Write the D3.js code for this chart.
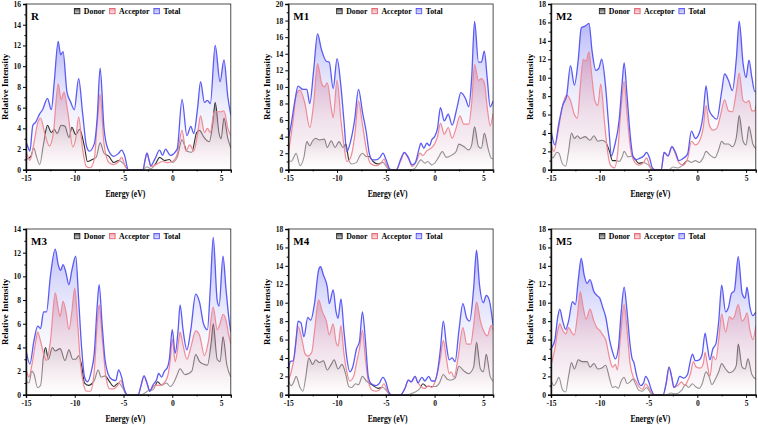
<!DOCTYPE html>
<html><head><meta charset="utf-8">
<script src="https://cdn.jsdelivr.net/npm/d3@7"></script>
<style>body{margin:0;background:#fff}svg{display:block}text{font-family:"Liberation Serif","Times New Roman",serif;font-weight:bold}</style>
</head><body>
<svg id="chart" width="758" height="425"></svg>
<script>
const panelNames = ["R","M1","M2","M3","M4","M5"];
const yMaxes = [16,20,18,14,18,18];
const xTicks = [-15,-10,-5,0,5];
const xMinorTicks = [-12.5,-7.5,-2.5,2.5];
const legendLabels = ["Donor","Acceptor","Total"];
const xTitle = "Energy (eV)";
const yTitle = "Relative Intensity";

// [energy (eV), intensity]
const R_total = [[-15,2.7],[-14.8,2.2],[-14.6,1.8],[-14.3,4.3],[-14,4.6],[-13.6,5.4],[-13.3,5.8],[-12.8,6.9],[-12.4,5.8],[-12.1,8.5],[-11.7,12.4],[-11.45,11.1],[-11.2,11.4],[-10.8,7.5],[-10.4,6.5],[-10.05,5.8],[-9.6,8.8],[-9.2,5.5],[-8.8,2.3],[-8.5,1.8],[-8.0,2.5],[-7.7,5],[-7.4,9.8],[-7.0,4],[-6.6,2.0],[-6.0,1.3],[-5.5,1.6],[-5.2,1.9],[-4.9,1.4],[-4.5,0],[-3.0,0],[-2.8,0.9],[-2.6,1.6],[-2.4,1.0],[-2.2,0.4],[-1.8,1.0],[-1.3,1.9],[-1.0,1.4],[-0.7,2.0],[-0.2,1.4],[0.5,2.0],[1.0,6.8],[1.5,3.3],[1.9,4.2],[2.2,3.5],[2.6,6.0],[2.9,8.5],[3.3,6.5],[3.6,6.7],[3.9,6.4],[4.4,12.0],[4.9,8.5],[5.3,10.6],[5.7,7],[6,5.3]];
const R_acceptor = [[-15,1.9],[-14.6,0.9],[-14.2,2.5],[-13.8,4.5],[-13.5,5.0],[-13.1,3.6],[-12.6,2.3],[-12.2,3.5],[-11.7,8.3],[-11.4,6.8],[-11.1,7.5],[-10.7,5.5],[-10.2,2.2],[-9.9,3.0],[-9.6,5.1],[-9.2,2.0],[-8.8,0.3],[-8.4,0.2],[-8.0,1.0],[-7.7,4.5],[-7.4,7.3],[-7.0,2.5],[-6.5,0.7],[-6.0,0.5],[-5.5,0.8],[-5.2,1.2],[-4.8,0.3],[-4.5,0],[-3.0,0],[-2.8,0.9],[-2.6,1.6],[-2.4,1.0],[-2.2,0.3],[-1.5,0.6],[-1.0,0.8],[-0.5,0.7],[0,0.8],[0.5,1.5],[1.0,3.8],[1.4,1.8],[1.8,2.4],[2.2,1.8],[2.6,3.5],[2.9,5.2],[3.3,3.6],[3.6,4.0],[3.9,3.6],[4.3,5.6],[5.0,5.6],[5.3,5.7],[5.7,4.0],[6,3.3]];
const R_donor = [[-15,1.0],[-14.5,1.3],[-14.2,2.1],[-13.9,1.2],[-13.6,0.5],[-13.2,2.5],[-12.8,4.3],[-12.4,3.6],[-12.1,3.9],[-11.8,3.5],[-11.4,4.3],[-11.0,4.2],[-10.6,3.1],[-10.3,4.1],[-9.9,3.4],[-9.5,3.9],[-9.0,2.2],[-8.7,0.8],[-8.2,1.0],[-7.8,1.2],[-7.4,2.6],[-7.0,1.6],[-6.5,1.3],[-6.0,0.7],[-5.5,0.9],[-5.0,0.6],[-4.5,0],[-3.0,0],[-2.6,0.3],[-2.2,0.1],[-1.7,0.6],[-1.3,1.2],[-0.8,0.9],[-0.3,1.0],[0,0.7],[0.5,1.2],[1.0,2.9],[1.5,1.8],[2.0,1.7],[2.5,3.6],[2.8,3.8],[3.2,3.2],[3.8,2.7],[4.15,4.5],[4.4,6.5],[4.8,3.5],[5.0,3.0],[5.3,5.0],[5.7,3.0],[6,2.1]];

const M1_total = [[-15,3.6],[-14.7,5.5],[-14.3,8.5],[-14.0,10.1],[-13.5,9.7],[-13.1,9.7],[-12.8,8.0],[-12.4,12.0],[-12.0,16.4],[-11.6,14.5],[-11.1,13.1],[-10.8,13.0],[-10.4,9.8],[-10.0,13.4],[-9.6,10.0],[-9.3,6.0],[-9.0,2.2],[-8.6,3.5],[-8.2,6.0],[-7.8,9.7],[-7.4,7.0],[-7.0,4.5],[-6.7,2.0],[-6.4,1.2],[-6.0,1.2],[-5.6,1.5],[-5.3,2.0],[-5.0,1.3],[-4.6,0.1],[-4.3,0],[-3.9,0],[-3.5,1.2],[-3.1,2.1],[-2.7,1.5],[-2.3,0.6],[-2.0,0.8],[-1.6,2.5],[-1.4,3.2],[-1.1,2.6],[-0.8,3.2],[-0.5,2.9],[-0.3,3.6],[0,4.0],[0.3,5.0],[0.6,7.5],[1.0,5.9],[1.4,6.7],[1.8,5.4],[2.3,7.5],[2.7,9.3],[3.2,8.5],[3.5,7.6],[3.8,11.0],[4.1,17.9],[4.5,13.0],[4.8,13.0],[5.1,14.3],[5.4,11.0],[5.7,7.6],[6,8.3]];
const M1_acceptor = [[-15,2.0],[-14.5,6.0],[-14.2,9.0],[-13.8,9.6],[-13.3,8.0],[-12.8,5.1],[-12.4,8.0],[-12.0,12.8],[-11.6,10.5],[-11.3,10.0],[-11.0,10.5],[-10.6,7.5],[-10.4,6.3],[-10.0,10.8],[-9.6,6.0],[-9.3,3.0],[-9.0,1.0],[-8.6,1.5],[-8.2,4.0],[-7.8,8.3],[-7.4,5.5],[-7.0,2.5],[-6.6,0.8],[-6.0,0.5],[-5.5,0.8],[-5.2,1.3],[-4.9,0.5],[-4.6,0],[-4.0,0],[-3.5,1.0],[-3.1,2.0],[-2.7,1.4],[-2.3,0.4],[-1.8,1.2],[-1.5,2.0],[-1.2,1.7],[-0.8,2.3],[-0.5,2.5],[0,3.1],[0.3,4.0],[0.6,5.6],[1.0,4.3],[1.4,5.1],[1.8,3.8],[2.2,5.0],[2.6,6.5],[3.0,5.5],[3.5,5.5],[3.8,8.0],[4.1,12.7],[4.5,10.8],[4.8,11.0],[5.1,10.5],[5.4,7.5],[5.7,5.3],[6,6.8]];
const M1_donor = [[-15,1.2],[-14.7,1.0],[-14.4,1.6],[-14.2,2.0],[-13.8,0.5],[-13.4,1.5],[-13.1,3.4],[-12.8,2.9],[-12.5,3.5],[-12.2,3.8],[-11.8,3.6],[-11.3,3.7],[-11.0,2.7],[-10.6,3.5],[-10.2,2.7],[-9.8,3.4],[-9.4,2.7],[-9.1,3.1],[-8.8,1.2],[-8.5,0.7],[-8.0,0.9],[-7.7,1.6],[-7.4,2.0],[-7.0,1.6],[-6.7,1.6],[-6.3,1.0],[-5.8,0.7],[-5.3,0.9],[-4.9,0.3],[-4.6,0],[-3.2,0],[-2.5,0],[-2.0,0.2],[-1.4,1.2],[-1.0,0.8],[-0.7,1.0],[-0.3,0.6],[0,0.8],[0.4,1.5],[0.8,2.2],[1.2,1.5],[1.8,1.8],[2.2,2.2],[2.5,3.1],[3.0,2.8],[3.5,2.4],[3.8,3.0],[4.1,5.2],[4.5,2.8],[4.8,2.6],[5.1,4.4],[5.5,2.5],[5.8,1.4],[6,1.3]];

const M2_total = [[-15,4.3],[-14.6,2.7],[-14.2,5.0],[-13.8,7.0],[-13.4,8.0],[-13.0,11.3],[-12.6,9.2],[-12.2,12.0],[-11.9,15.4],[-11.5,15.6],[-11.1,15.9],[-10.8,13.0],[-10.4,10.8],[-10.1,11.0],[-9.8,12.0],[-9.4,9.0],[-9.1,5.0],[-8.8,1.5],[-8.5,2.5],[-8.0,5.5],[-7.7,9.5],[-7.5,11.6],[-7.2,8.0],[-6.9,4.0],[-6.6,1.5],[-6.3,1.1],[-6.0,1.2],[-5.5,1.5],[-5.2,1.9],[-4.9,1.3],[-4.6,0.2],[-4.3,0],[-3.7,0],[-3.4,1.9],[-3.0,1.5],[-2.6,2.5],[-2.2,1.8],[-1.9,1.0],[-1.5,1.2],[-1.0,1.7],[-0.6,4.2],[-0.2,3.4],[0.3,4.3],[0.6,6.0],[0.9,9.1],[1.2,6.5],[1.6,5.8],[2.0,5.5],[2.5,8.5],[2.8,10.4],[3.2,9.7],[3.6,8.6],[4.0,12.0],[4.3,16.1],[4.7,11.5],[5.0,10.0],[5.3,11.9],[5.6,10.0],[5.9,8.5],[6,8.5]];
const M2_acceptor = [[-15,2.8],[-14.7,2.0],[-14.3,4.0],[-13.9,6.5],[-13.4,8.1],[-13.0,7.5],[-12.6,6.0],[-12.3,5.6],[-12.0,9.0],[-11.7,12.0],[-11.4,11.8],[-11.1,12.8],[-10.8,10.0],[-10.5,7.5],[-10.2,7.0],[-9.9,9.3],[-9.5,5.0],[-9.2,2.0],[-8.9,0.5],[-8.5,0.2],[-8.2,1.5],[-7.8,7.0],[-7.5,9.6],[-7.2,6.0],[-6.8,2.0],[-6.4,0.8],[-6.0,0.5],[-5.5,0.8],[-5.2,1.3],[-4.9,0.5],[-4.6,0],[-3.7,0],[-3.4,1.9],[-3.0,1.5],[-2.6,2.5],[-2.2,1.6],[-1.9,0.8],[-1.5,0.5],[-1.0,1.2],[-0.6,3.1],[-0.2,2.7],[0.3,3.3],[0.6,4.5],[0.9,7.0],[1.2,5.0],[1.6,4.3],[2.0,4.5],[2.4,6.0],[2.8,7.6],[3.2,6.4],[3.6,6.3],[4.0,8.5],[4.3,10.5],[4.7,7.5],[5.0,7.3],[5.3,7.5],[5.6,6.4],[5.9,6.4],[6,7.0]];
const M2_donor = [[-15,1.5],[-14.8,1.3],[-14.4,1.9],[-14.2,1.8],[-13.8,0.6],[-13.5,0.4],[-13.2,2.0],[-12.9,4.0],[-12.6,3.4],[-12.3,3.7],[-12.0,3.4],[-11.5,3.6],[-11.0,3.2],[-10.6,3.7],[-10.2,3.1],[-9.8,3.2],[-9.4,3.0],[-9.0,2.0],[-8.7,1.0],[-8.3,1.0],[-8.0,0.9],[-7.7,1.4],[-7.5,2.0],[-7.1,1.4],[-6.7,1.5],[-6.4,1.2],[-6.0,0.7],[-5.5,0.8],[-5.0,0.5],[-4.6,0],[-2.9,0],[-2.5,0.3],[-2.0,0.2],[-1.5,0.5],[-1.0,1.0],[-0.6,0.8],[-0.2,1.0],[0.2,0.8],[0.6,1.3],[0.9,2.0],[1.3,1.6],[1.8,1.3],[2.2,2.2],[2.5,3.1],[2.8,2.8],[3.2,2.8],[3.6,2.5],[4.0,3.5],[4.3,5.9],[4.7,3.1],[5.0,2.7],[5.3,4.7],[5.7,2.8],[6,2.3]];

const M3_total = [[-15,3.8],[-14.6,2.6],[-14.2,4.5],[-13.8,5.8],[-13.5,5.6],[-13.2,7.0],[-12.9,7.0],[-12.5,10.0],[-12.0,12.3],[-11.7,11.0],[-11.45,10.5],[-11.2,11.0],[-10.9,10.3],[-10.6,9.3],[-10.3,10.5],[-9.9,11.7],[-9.6,8.0],[-9.3,4.0],[-9.0,1.5],[-8.7,1.1],[-8.3,2.0],[-8.0,3.5],[-7.7,7.5],[-7.5,9.3],[-7.2,6.0],[-6.9,3.0],[-6.6,1.8],[-6.2,1.3],[-5.8,1.2],[-5.5,2.1],[-5.2,1.5],[-4.9,0.4],[-4.6,0],[-3.5,0],[-3.2,0.8],[-2.9,1.6],[-2.6,1.0],[-2.3,0.3],[-2.0,0.8],[-1.6,1.3],[-1.4,1.8],[-1.1,1.5],[-0.8,2.0],[-0.5,2.3],[-0.3,3.0],[0,5.5],[0.3,3.5],[0.6,5.5],[0.8,7.6],[1.1,5.5],[1.5,3.8],[1.9,5.5],[2.4,8.5],[2.8,7.8],[3.2,6.0],[3.6,5.5],[3.9,9.0],[4.2,13.3],[4.6,8.0],[4.8,7.5],[5.2,11.7],[5.5,9.0],[5.8,6.5],[6,5.3]];
const M3_acceptor = [[-15,2.2],[-14.7,1.5],[-14.4,2.5],[-14.0,4.5],[-13.8,5.3],[-13.5,4.5],[-13.2,3.5],[-12.9,2.9],[-12.5,4.5],[-12.0,8.6],[-11.7,7.3],[-11.5,6.6],[-11.2,7.9],[-10.9,7.0],[-10.6,5.5],[-10.3,7.0],[-10.0,9.0],[-9.7,6.0],[-9.4,2.5],[-9.1,0.9],[-8.8,0.3],[-8.4,0.3],[-8.0,2.0],[-7.7,6.0],[-7.5,7.6],[-7.2,5.0],[-6.8,1.5],[-6.4,0.5],[-6.0,0.5],[-5.6,0.8],[-5.3,1.2],[-4.9,0.4],[-4.6,0],[-3.5,0],[-3.2,0.8],[-2.9,1.6],[-2.6,1.0],[-2.3,0.3],[-1.8,0.8],[-1.4,0.8],[-1.0,0.9],[-0.5,1.5],[-0.2,3.0],[0,4.7],[0.3,2.8],[0.6,4.2],[0.8,5.3],[1.1,4.2],[1.5,3.0],[1.9,4.0],[2.4,5.4],[2.8,5.0],[3.3,3.3],[3.7,4.5],[4.2,7.4],[4.6,5.5],[4.9,6.0],[5.2,6.8],[5.5,6.3],[5.8,5.0],[6,4.3]];
const M3_donor = [[-15,1.2],[-14.7,1.0],[-14.4,2.0],[-14.2,1.8],[-13.8,0.6],[-13.5,0.8],[-13.2,3.3],[-13.0,4.0],[-12.7,3.0],[-12.3,4.0],[-12.0,3.7],[-11.5,3.9],[-11.0,2.9],[-10.6,3.8],[-10.2,3.0],[-9.9,3.0],[-9.6,3.3],[-9.3,2.5],[-9.0,1.0],[-8.6,0.8],[-8.0,1.2],[-7.6,2.1],[-7.3,1.5],[-6.9,1.6],[-6.5,1.2],[-6.0,0.7],[-5.5,1.0],[-5.1,0.6],[-4.7,0],[-3.2,0],[-2.9,0.1],[-2.3,0.4],[-2.0,0.4],[-1.5,1.1],[-1.1,0.8],[-0.6,1.0],[-0.2,0.7],[0.2,1.1],[0.5,1.7],[0.8,2.2],[1.3,1.7],[2.0,2.0],[2.4,3.4],[2.8,2.8],[3.2,2.6],[3.6,2.5],[4.0,4.5],[4.2,6.0],[4.6,3.0],[4.9,2.8],[5.2,4.9],[5.6,2.5],[6,1.5]];

const M4_total = [[-15,2.5],[-14.8,3.6],[-14.5,3.7],[-14.2,6.0],[-14.0,8.0],[-13.7,7.8],[-13.4,6.3],[-13.0,8.4],[-12.7,8.1],[-12.3,10.0],[-11.9,13.5],[-11.7,13.9],[-11.4,13.0],[-11.0,11.7],[-10.8,9.9],[-10.4,11.4],[-10.1,9.0],[-9.9,8.3],[-9.6,10.4],[-9.3,7.0],[-9.0,4.0],[-8.7,2.5],[-8.4,3.0],[-8.0,5.0],[-7.7,5.8],[-7.4,9.0],[-7.1,6.0],[-6.8,2.0],[-6.5,1.2],[-6.0,1.0],[-5.7,1.2],[-5.3,1.9],[-5.0,1.4],[-4.7,0.3],[-4.4,0],[-3.5,0],[-3.0,0.8],[-2.7,1.6],[-2.4,1.4],[-2.0,2.0],[-1.7,1.3],[-1.3,1.9],[-1.0,1.5],[-0.6,2.0],[-0.3,1.5],[0,1.5],[0.3,2.5],[0.6,5.0],[0.9,8.0],[1.2,5.5],[1.5,3.8],[1.8,4.0],[2.1,3.6],[2.5,7.0],[2.9,9.9],[3.3,8.3],[3.6,8.0],[4.0,11.5],[4.3,15.7],[4.6,12.0],[5.0,10.0],[5.3,10.8],[5.6,10.3],[6,7.5]];
const M4_acceptor = [[-15,1.5],[-14.7,2.5],[-14.4,4.0],[-14.0,7.4],[-13.6,6.0],[-13.3,4.5],[-13.0,4.2],[-12.6,4.6],[-12.3,7.0],[-11.9,10.3],[-11.5,9.0],[-11.1,8.0],[-10.8,6.5],[-10.4,7.7],[-10.1,5.7],[-9.9,5.3],[-9.6,7.5],[-9.3,4.5],[-9.0,2.5],[-8.7,1.5],[-8.3,2.0],[-8.0,3.5],[-7.7,5.0],[-7.4,7.0],[-7.1,4.0],[-6.8,1.5],[-6.4,0.5],[-6.0,0.4],[-5.5,0.7],[-5.2,1.2],[-4.8,0.3],[-4.5,0],[-3.5,0],[-3.0,0.8],[-2.7,1.6],[-2.4,1.4],[-2.0,2.0],[-1.7,1.3],[-1.3,0.8],[-1.0,0.7],[-0.6,1.0],[-0.3,0.8],[0,1.3],[0.3,2.5],[0.6,4.0],[0.9,5.9],[1.2,4.0],[1.5,2.3],[1.7,2.5],[2.0,1.9],[2.4,4.0],[2.9,7.3],[3.3,5.5],[3.7,5.5],[4.0,7.5],[4.3,10.1],[4.7,8.0],[5.0,7.0],[5.4,6.4],[5.8,7.5],[6,7.0]];
const M4_donor = [[-15,1.6],[-14.7,1.0],[-14.4,1.5],[-14.2,2.0],[-13.8,0.8],[-13.5,0.4],[-13.2,2.0],[-12.9,4.0],[-12.5,3.3],[-12.2,3.8],[-11.8,3.5],[-11.4,3.7],[-11.0,2.7],[-10.6,3.3],[-10.3,3.8],[-9.9,2.8],[-9.5,3.3],[-9.1,2.2],[-8.8,0.9],[-8.5,0.8],[-8.1,1.2],[-7.8,1.1],[-7.4,2.0],[-7.0,1.5],[-6.6,1.2],[-6.3,1.0],[-5.8,0.7],[-5.3,0.8],[-4.9,0.4],[-4.6,0],[-3.0,0],[-2.0,0.3],[-1.5,0.7],[-1.2,1.2],[-0.8,0.9],[-0.3,0.9],[0.1,0.9],[0.5,1.3],[0.9,2.2],[1.3,1.7],[1.7,1.6],[2.1,1.8],[2.5,3.1],[3.0,2.6],[3.5,2.3],[4.0,3.0],[4.3,5.7],[4.7,2.8],[5.0,2.5],[5.3,4.4],[5.7,2.0],[6,1.5]];

const M5_total = [[-15,5.0],[-14.6,6.0],[-14.3,8.5],[-14.1,9.3],[-13.8,8.0],[-13.5,7.1],[-13.2,8.0],[-12.8,10.1],[-12.5,9.8],[-12.2,12.5],[-11.9,14.8],[-11.6,13.0],[-11.3,12.1],[-11.0,12.5],[-10.6,11.2],[-10.3,10.8],[-10.0,10.5],[-9.7,9.5],[-9.4,8.5],[-9.0,6.0],[-8.7,4.7],[-8.4,3.9],[-8.1,5.0],[-7.8,9.0],[-7.5,11.7],[-7.2,9.0],[-6.9,5.5],[-6.7,4.0],[-6.5,3.5],[-6.2,2.0],[-5.8,1.0],[-5.5,1.3],[-5.3,2.0],[-5.0,1.5],[-4.7,0.5],[-4.4,0],[-3.5,0],[-3.2,1.2],[-2.9,3.0],[-2.6,1.8],[-2.4,0.8],[-2.1,1.2],[-1.8,2.0],[-1.4,1.8],[-1.0,2.2],[-0.8,3.2],[-0.5,4.4],[-0.2,3.7],[0.2,3.8],[0.5,4.4],[0.8,6.7],[1.0,5.5],[1.3,3.8],[1.6,5.0],[1.9,5.5],[2.2,8.0],[2.5,11.9],[2.9,9.0],[3.2,9.5],[3.5,11.0],[3.8,11.3],[4.2,15.0],[4.6,11.0],[4.9,10.5],[5.1,11.7],[5.4,9.5],[5.7,8.6],[6,9.0]];
const M5_acceptor = [[-15,3.2],[-14.6,5.0],[-14.3,7.0],[-14.1,7.7],[-13.8,7.0],[-13.5,6.6],[-13.2,7.3],[-12.9,6.8],[-12.6,6.5],[-12.3,8.5],[-12.0,11.2],[-11.7,9.5],[-11.4,8.2],[-11.0,9.3],[-10.6,8.0],[-10.3,7.3],[-10.0,7.0],[-9.7,6.5],[-9.4,6.0],[-9.0,4.0],[-8.7,3.0],[-8.4,3.3],[-8.2,2.7],[-7.9,6.0],[-7.5,9.8],[-7.2,7.0],[-6.9,3.5],[-6.6,2.0],[-6.3,1.5],[-6.0,0.9],[-5.6,0.6],[-5.3,1.2],[-5.0,0.8],[-4.7,0.2],[-4.4,0],[-3.5,0],[-3.2,1.2],[-2.9,3.0],[-2.6,1.8],[-2.4,0.8],[-2.0,1.0],[-1.6,1.4],[-1.3,1.0],[-1.0,1.5],[-0.7,2.3],[-0.4,3.6],[-0.1,3.0],[0.3,2.9],[0.6,3.3],[0.8,4.6],[1.0,3.5],[1.3,2.0],[1.6,4.2],[1.9,3.8],[2.2,6.0],[2.5,8.8],[2.9,6.8],[3.3,8.5],[3.6,8.2],[3.8,8.5],[4.2,9.8],[4.6,8.0],[4.9,8.4],[5.1,8.9],[5.4,7.0],[5.7,6.0],[6,7.5]];
const M5_donor = [[-15,1.6],[-14.7,1.0],[-14.4,1.5],[-14.2,1.9],[-13.8,0.5],[-13.5,0.3],[-13.2,2.0],[-12.9,3.5],[-12.6,2.8],[-12.2,3.8],[-11.8,3.6],[-11.3,3.6],[-11.0,3.0],[-10.6,3.4],[-10.2,2.8],[-9.8,2.9],[-9.4,3.2],[-9.0,1.8],[-8.7,0.8],[-8.4,0.9],[-8.1,0.7],[-7.8,1.5],[-7.5,1.9],[-7.2,1.2],[-6.9,1.4],[-6.6,1.7],[-6.3,1.1],[-6.0,0.5],[-5.6,0.4],[-5.2,0.8],[-4.8,0.2],[-4.5,0],[-3.2,0],[-2.7,0.2],[-2.2,0.1],[-1.6,0.5],[-1.2,1.1],[-0.9,0.8],[-0.5,1.2],[-0.2,0.9],[0.2,0.7],[0.5,1.2],[0.9,2.5],[1.2,2.0],[1.5,1.1],[1.9,1.8],[2.2,2.5],[2.5,3.4],[2.9,2.8],[3.3,2.4],[3.7,2.6],[4.0,3.2],[4.2,5.5],[4.6,3.0],[4.9,2.8],[5.2,3.9],[5.6,2.2],[6,1.7]];

const donorSeries = [R_donor, M1_donor, M2_donor, M3_donor, M4_donor, M5_donor];
const acceptorSeries = [R_acceptor, M1_acceptor, M2_acceptor, M3_acceptor, M4_acceptor, M5_acceptor];
const totalSeries = [R_total, M1_total, M2_total, M3_total, M4_total, M5_total];

// ---------------- layout / style ----------------
const svg = d3.select("#chart");
const colLeft = [26, 288.3, 551];
const rowTop = [4, 229];
const plotW = 204.8, plotH = 165.8;
const C = {total:"#5a5af4", acc:"#ef8a95", don:"#2e2e2e"};

const defs = svg.append("defs");
function grad(id, stops){
  const g = defs.append("linearGradient").attr("id", id).attr("x1",0).attr("y1",0).attr("x2",0).attr("y2",1);
  stops.forEach(s => g.append("stop").attr("offset", s[0]).attr("stop-color", s[1]).attr("stop-opacity", s[2]));
}
grad("gTot", [[0,"#6e6ef0",0.5],[0.5,"#bcbcf6",0.26],[1,"#ffffff",0]]);
grad("gAcc", [[0,"#c56690",0.44],[0.55,"#e6c2d2",0.4],[1,"#ffffff",0.55]]);
grad("gDon", [[0,"#4a4a4a",0.48],[1,"#ffffff",0]]);
grad("gLegD", [[0,"#555",1],[1,"#ddd",1]]);
grad("gLegA", [[0,"#f2a0ab",1],[1,"#fde6ea",1]]);
grad("gLegT", [[0,"#a8a8f8",1],[1,"#e4e4fd",1]]);

const font = '"Liberation Serif","Times New Roman",serif';

panelNames.forEach((name, i) => {
  const col = i % 3, row = Math.floor(i / 3);
  const left = colLeft[col], top = rowTop[row];
  const x = d3.scaleLinear().domain([-15, 6]).range([left, left + plotW]);
  const y = d3.scaleLinear().domain([0, yMaxes[i]]).range([top + plotH, top]);
  const g = svg.append("g");
  const clipId = "clip" + i;
  defs.append("clipPath").attr("id", clipId).append("rect")
    .attr("x", left).attr("y", top).attr("width", plotW).attr("height", plotH);
  const area = d3.area().curve(d3.curveMonotoneX).x(d => x(d[0])).y0(y(0)).y1(d => y(d[1]));
  const line = d3.line().curve(d3.curveMonotoneX).x(d => x(d[0])).y(d => y(d[1]));
  const p = g.append("g").attr("clip-path", `url(#${clipId})`);
  p.append("path").datum(totalSeries[i]).attr("d", area).attr("fill", "url(#gTot)");
  p.append("path").datum(donorSeries[i]).attr("d", area).attr("fill", "url(#gDon)");
  p.append("path").datum(donorSeries[i]).attr("d", line).attr("fill", "none").attr("stroke", C.don).attr("stroke-width", 1.1);
  p.append("path").datum(acceptorSeries[i]).attr("d", area).attr("fill", "url(#gAcc)");
  p.append("path").datum(acceptorSeries[i]).attr("d", line).attr("fill", "none").attr("stroke", C.acc).attr("stroke-width", 1.2);
  p.append("path").datum(totalSeries[i]).attr("d", line).attr("fill", "none").attr("stroke", C.total).attr("stroke-width", 1.3);

  // frame
  g.append("rect").attr("x", left).attr("y", top).attr("width", plotW).attr("height", plotH)
    .attr("fill", "none").attr("stroke", "#222").attr("stroke-width", 0.8);

  // axes
  const yTicks = d3.range(0, yMaxes[i] + 0.01, 2);
  const yMinor = d3.range(1, yMaxes[i], 2);
  const ax = g.append("g").attr("transform", `translate(${left},0)`)
    .call(d3.axisLeft(y).tickValues(yTicks).tickSize(3).tickPadding(2).tickFormat(d => String(d)));
  ax.select(".domain").attr("stroke", "#111").attr("stroke-width", 1.4);
  ax.selectAll("text").style("font-family", font).style("font-weight", "bold").style("font-size", "7.6px").attr("fill", "#111");
  g.append("g").attr("transform", `translate(${left},0)`)
    .call(d3.axisLeft(y).tickValues(yMinor).tickSize(1.6).tickFormat(""))
    .select(".domain").remove();

  const bx = g.append("g").attr("transform", `translate(0,${top + plotH})`)
    .call(d3.axisBottom(x).tickValues(xTicks).tickSize(3).tickPadding(2.5).tickFormat(d => String(d)));
  bx.select(".domain").attr("stroke", "#111").attr("stroke-width", 1.4);
  bx.selectAll("text").style("font-family", font).style("font-weight", "bold").style("font-size", "7.6px").attr("fill", "#111");
  g.append("g").attr("transform", `translate(0,${top + plotH})`)
    .call(d3.axisBottom(x).tickValues(xMinorTicks).tickSize(1.6).tickFormat(""))
    .select(".domain").remove();

  // axis titles
  g.append("text").attr("x", left + plotW / 2 - 3).attr("y", top + plotH + 27)
    .attr("text-anchor", "middle").style("font-size", "9.5px").attr("textLength", 40).attr("lengthAdjust", "spacingAndGlyphs").text(xTitle);
  g.append("text").attr("transform", `translate(${left - 18},${top + plotH / 2}) rotate(-90)`)
    .attr("text-anchor", "middle").style("font-size", "8.8px").text(yTitle);

  // panel label
  g.append("text").attr("x", left + 5).attr("y", top + 15.5).style("font-size", "11px").text(name);

  // legend
  const leg = g.append("g");
  const fills = ["url(#gLegD)", "url(#gLegA)", "url(#gLegT)"];
  const strokes = ["#222", "#e0606e", "#5555ee"];
  let cx = 0;
  legendLabels.forEach((lab, k) => {
    leg.append("rect").attr("x", cx).attr("y", 0).attr("width", 5.5).attr("height", 5.2)
      .attr("fill", fills[k]).attr("stroke", strokes[k]).attr("stroke-width", 0.9);
    const t = leg.append("text").attr("x", cx + 9.5).attr("y", 5.4).style("font-size", "7.8px").text(lab);
    cx += 9.5 + t.node().getComputedTextLength() + 4.5;
  });
  const legW = cx - 4.5;
  leg.attr("transform", `translate(${left + plotW / 2 - legW / 2 - 1},${top + 4.5})`);
});
</script>
</body></html>
